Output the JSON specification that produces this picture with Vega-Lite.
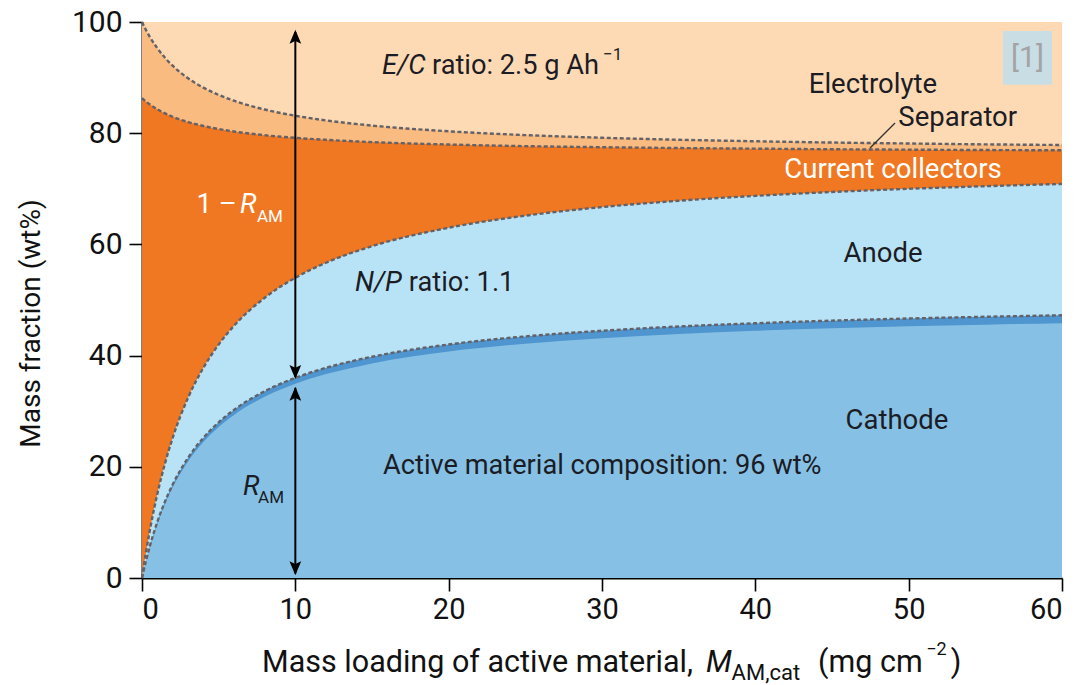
{
  "$schema": "https://vega.github.io/schema/vega-lite/v6.json",
  "autosize": {"type": "none"},
  "padding": {"left": 142, "top": 22, "right": 22, "bottom": 107},
  "width": 920,
  "height": 556,
  "background": "#ffffff",
  "view": {"fill": "#fddab4", "stroke": null},
  "config": {
    "font": "Roboto",
    "text": {"font": "Roboto", "baseline": "middle"},
    "axis": {
      "grid": false,
      "domainColor": "#000000",
      "domainWidth": 2,
      "tickColor": "#000000",
      "tickWidth": 1.6,
      "tickSize": 13,
      "labelFont": "Roboto",
      "labelColor": "#111111",
      "titleFont": "Roboto",
      "titleFontSize": 28,
      "titleFontWeight": "normal",
      "titleColor": "#111111"
    }
  },
  "datasets": {
    "loading": [
      {"m": 0, "catAM": 0, "cat": 0, "an": 0, "cc": 86.3, "sep": 100},
      {"m": 0.25, "catAM": 2.87, "cat": 2.96, "an": 4.45, "cc": 85.71, "sep": 98.61},
      {"m": 0.5, "catAM": 5.43, "cat": 5.6, "an": 8.4, "cc": 85.19, "sep": 97.38},
      {"m": 1, "catAM": 9.78, "cat": 10.08, "an": 15.12, "cc": 84.3, "sep": 95.28},
      {"m": 1.5, "catAM": 13.34, "cat": 13.75, "an": 20.62, "cc": 83.57, "sep": 93.57},
      {"m": 2, "catAM": 16.3, "cat": 16.8, "an": 25.2, "cc": 82.96, "sep": 92.14},
      {"m": 3, "catAM": 20.95, "cat": 21.6, "an": 32.4, "cc": 82.01, "sep": 89.88},
      {"m": 4, "catAM": 24.44, "cat": 25.2, "an": 37.8, "cc": 81.3, "sep": 88.2},
      {"m": 5, "catAM": 27.16, "cat": 28.0, "an": 42.0, "cc": 80.75, "sep": 86.88},
      {"m": 6, "catAM": 29.33, "cat": 30.24, "an": 45.36, "cc": 80.3, "sep": 85.84},
      {"m": 8, "catAM": 32.59, "cat": 33.6, "an": 50.4, "cc": 79.64, "sep": 84.26},
      {"m": 10, "catAM": 34.92, "cat": 36.0, "an": 54.0, "cc": 79.16, "sep": 83.14},
      {"m": 12, "catAM": 36.67, "cat": 37.8, "an": 56.7, "cc": 78.81, "sep": 82.3},
      {"m": 15, "catAM": 38.6, "cat": 39.79, "an": 59.68, "cc": 78.4, "sep": 81.37},
      {"m": 20, "catAM": 40.74, "cat": 42.0, "an": 63.0, "cc": 77.96, "sep": 80.34},
      {"m": 25, "catAM": 42.15, "cat": 43.45, "an": 65.17, "cc": 77.67, "sep": 79.66},
      {"m": 30, "catAM": 43.14, "cat": 44.47, "an": 66.71, "cc": 77.48, "sep": 79.18},
      {"m": 35, "catAM": 43.87, "cat": 45.23, "an": 67.85, "cc": 77.33, "sep": 78.82},
      {"m": 40, "catAM": 44.45, "cat": 45.82, "an": 68.73, "cc": 77.22, "sep": 78.55},
      {"m": 45, "catAM": 44.9, "cat": 46.29, "an": 69.43, "cc": 77.11, "sep": 78.32},
      {"m": 50, "catAM": 45.27, "cat": 46.67, "an": 70.0, "cc": 77.04, "sep": 78.15},
      {"m": 55, "catAM": 45.57, "cat": 46.98, "an": 70.47, "cc": 76.97, "sep": 77.99},
      {"m": 60, "catAM": 45.83, "cat": 47.25, "an": 70.88, "cc": 76.93, "sep": 77.88}
    ],
    "arrowLines": [
      {"m": 10, "lo": 36.2, "hi": 98.2},
      {"m": 10, "lo": 0.8, "hi": 34.2}
    ],
    "arrowHeads": [
      {"m": 10, "v": 98.6, "dir": "up"},
      {"m": 10, "v": 35.8, "dir": "down"},
      {"m": 10, "v": 34.4, "dir": "up"},
      {"m": 10, "v": 0.5, "dir": "down"}
    ],
    "leader": [{"m1": 47.48, "v1": 77.34, "m2": 49.11, "v2": 81.83}],
    "refBox": [{"m1": 56.15, "m2": 59.35, "v1": 88.7, "v2": 98.4}],
    "refText": [{"t": "[1]", "m": 57.75, "v": 93.5}],
    "regionLabels": [
      {"t": "Electrolyte", "m": 47.67, "v": 88.7},
      {"t": "Separator", "m": 53.2, "v": 82.7},
      {"t": "Anode", "m": 48.33, "v": 58.3},
      {"t": "Cathode", "m": 49.24, "v": 28.2}
    ],
    "whiteCentred": [{"t": "Current collectors", "m": 48.98, "v": 73.4}],
    "plainText": [
      {"t": "ratio: 2.5 g Ah", "m": 18.91, "v": 92.1},
      {"t": "ratio: 1.1", "m": 17.4, "v": 53.1},
      {"t": "Active material composition: 96 wt%", "m": 15.72, "v": 20.1}
    ],
    "italicText": [
      {"t": "E/C", "m": 15.65, "v": 92.1},
      {"t": "N/P", "m": 13.89, "v": 53.1},
      {"t": "R", "m": 6.59, "v": 16.4}
    ],
    "smallText": [
      {"t": "−1", "m": 30.07, "v": 94.0},
      {"t": "AM", "m": 7.57, "v": 14.4}
    ],
    "titlePlain": [
      {"t": "Mass loading of active material,", "m": 7.83, "v": -15.3},
      {"t": "(mg cm", "m": 44.09, "v": -15.3},
      {"t": ")", "m": 52.75, "v": -15.3}
    ],
    "titleItalic": [{"t": "M", "m": 36.78, "v": -15.3}],
    "titleSub": [{"t": "AM,cat", "m": 38.45, "v": -17.0}],
    "titleSup": [{"t": "−2", "m": 51.15, "v": -12.9}],
    "whitePlain": [{"t": "1 –", "m": 3.55, "v": 67.1}],
    "whiteItalic": [{"t": "R", "m": 6.39, "v": 67.1}],
    "whiteSmall": [{"t": "AM", "m": 7.5, "v": 64.9}]
  },
  "layer": [
    {
      "data": {"name": "loading"},
      "mark": {"type": "area", "color": "#f9bb7f", "interpolate": "monotone"},
      "encoding": {
        "x": {
          "field": "m", "type": "quantitative",
          "scale": {"domain": [0, 60], "nice": false, "zero": false},
          "axis": {"values": [0, 10, 20, 30, 40, 50, 60], "title": null, "labelPadding": 4, "labelFontSize": 29}
        },
        "y": {
          "field": "sep", "type": "quantitative",
          "scale": {"domain": [0, 100], "nice": false},
          "axis": {
            "values": [0, 20, 40, 60, 80, 100],
            "title": "Mass fraction (wt%)",
            "titleX": -111, "titleY": 301,
            "titleAlign": "center", "titleBaseline": "middle",
            "labelPadding": 7,
            "labelFontSize": 30
          }
        }
      }
    },
    {
      "data": {"name": "loading"},
      "mark": {"type": "area", "color": "#f07822", "interpolate": "monotone"},
      "encoding": {"x": {"field": "m", "type": "quantitative"}, "y": {"field": "cc", "type": "quantitative"}}
    },
    {
      "data": {"name": "loading"},
      "mark": {"type": "area", "color": "#b8e3f7", "interpolate": "monotone"},
      "encoding": {"x": {"field": "m", "type": "quantitative"}, "y": {"field": "an", "type": "quantitative"}}
    },
    {
      "data": {"name": "loading"},
      "mark": {"type": "area", "color": "#4f95d0", "interpolate": "monotone"},
      "encoding": {"x": {"field": "m", "type": "quantitative"}, "y": {"field": "cat", "type": "quantitative"}}
    },
    {
      "data": {"name": "loading"},
      "mark": {"type": "area", "color": "#86c1e5", "interpolate": "monotone"},
      "encoding": {"x": {"field": "m", "type": "quantitative"}, "y": {"field": "catAM", "type": "quantitative"}}
    },
    {
      "data": {"name": "loading"},
      "transform": [{"fold": ["sep", "cc", "an", "cat"], "as": ["boundary", "level"]}],
      "mark": {"type": "line", "color": "#626268", "strokeWidth": 2.4, "strokeDash": [4, 2.5], "interpolate": "monotone"},
      "encoding": {
        "x": {"field": "m", "type": "quantitative"},
        "y": {"field": "level", "type": "quantitative"},
        "detail": {"field": "boundary"}
      }
    },
    {
      "data": {"name": "leader"},
      "mark": {"type": "rule", "color": "#333333", "strokeWidth": 1.3},
      "encoding": {
        "x": {"field": "m1", "type": "quantitative"},
        "y": {"field": "v1", "type": "quantitative"},
        "x2": {"field": "m2"},
        "y2": {"field": "v2"}
      }
    },
    {
      "data": {"name": "arrowLines"},
      "mark": {"type": "rule", "color": "#000000", "strokeWidth": 2},
      "encoding": {
        "x": {"field": "m", "type": "quantitative"},
        "y": {"field": "lo", "type": "quantitative"},
        "y2": {"field": "hi"}
      }
    },
    {
      "data": {"name": "arrowHeads"},
      "mark": {"type": "point", "filled": true, "color": "#000000", "opacity": 1, "size": 784},
      "encoding": {
        "x": {"field": "m", "type": "quantitative"},
        "y": {"field": "v", "type": "quantitative"},
        "shape": {
          "field": "dir", "type": "nominal",
          "scale": {"domain": ["up", "down"], "range": ["M0,0L-0.42,1L0,0.8L0.42,1Z", "M0,0L-0.42,-1L0,-0.8L0.42,-1Z"]},
          "legend": null
        }
      }
    },
    {
      "data": {"name": "refBox"},
      "mark": {"type": "rect", "color": "#c9dde5"},
      "encoding": {
        "x": {"field": "m1", "type": "quantitative"},
        "x2": {"field": "m2"},
        "y": {"field": "v1", "type": "quantitative"},
        "y2": {"field": "v2"}
      }
    },
    {
      "data": {"name": "refText"},
      "mark": {"type": "text", "fontSize": 30, "color": "#a3a3a3", "align": "center"},
      "encoding": {"x": {"field": "m", "type": "quantitative"}, "y": {"field": "v", "type": "quantitative"}, "text": {"field": "t"}}
    },
    {
      "data": {"name": "regionLabels"},
      "mark": {"type": "text", "fontSize": 27.5, "color": "#1c1c24", "align": "center"},
      "encoding": {"x": {"field": "m", "type": "quantitative"}, "y": {"field": "v", "type": "quantitative"}, "text": {"field": "t"}}
    },
    {
      "data": {"name": "whiteCentred"},
      "mark": {"type": "text", "fontSize": 27.5, "color": "#ffffff", "align": "center"},
      "encoding": {"x": {"field": "m", "type": "quantitative"}, "y": {"field": "v", "type": "quantitative"}, "text": {"field": "t"}}
    },
    {
      "data": {"name": "plainText"},
      "mark": {"type": "text", "fontSize": 27.2, "color": "#1c1c24", "align": "left"},
      "encoding": {"x": {"field": "m", "type": "quantitative"}, "y": {"field": "v", "type": "quantitative"}, "text": {"field": "t"}}
    },
    {
      "data": {"name": "italicText"},
      "mark": {"type": "text", "fontSize": 27.5, "fontStyle": "italic", "color": "#1c1c24", "align": "left"},
      "encoding": {"x": {"field": "m", "type": "quantitative"}, "y": {"field": "v", "type": "quantitative"}, "text": {"field": "t"}}
    },
    {
      "data": {"name": "smallText"},
      "mark": {"type": "text", "fontSize": 17, "color": "#1c1c24", "align": "left"},
      "encoding": {"x": {"field": "m", "type": "quantitative"}, "y": {"field": "v", "type": "quantitative"}, "text": {"field": "t"}}
    },
    {
      "data": {"name": "titlePlain"},
      "mark": {"type": "text", "fontSize": 30.5, "color": "#111111", "align": "left"},
      "encoding": {"x": {"field": "m", "type": "quantitative"}, "y": {"field": "v", "type": "quantitative"}, "text": {"field": "t"}}
    },
    {
      "data": {"name": "titleItalic"},
      "mark": {"type": "text", "fontSize": 30.5, "fontStyle": "italic", "color": "#111111", "align": "left"},
      "encoding": {"x": {"field": "m", "type": "quantitative"}, "y": {"field": "v", "type": "quantitative"}, "text": {"field": "t"}}
    },
    {
      "data": {"name": "titleSub"},
      "mark": {"type": "text", "fontSize": 22, "color": "#111111", "align": "left"},
      "encoding": {"x": {"field": "m", "type": "quantitative"}, "y": {"field": "v", "type": "quantitative"}, "text": {"field": "t"}}
    },
    {
      "data": {"name": "titleSup"},
      "mark": {"type": "text", "fontSize": 18, "color": "#111111", "align": "left"},
      "encoding": {"x": {"field": "m", "type": "quantitative"}, "y": {"field": "v", "type": "quantitative"}, "text": {"field": "t"}}
    },
    {
      "data": {"name": "whitePlain"},
      "mark": {"type": "text", "fontSize": 27.5, "color": "#ffffff", "align": "left"},
      "encoding": {"x": {"field": "m", "type": "quantitative"}, "y": {"field": "v", "type": "quantitative"}, "text": {"field": "t"}}
    },
    {
      "data": {"name": "whiteItalic"},
      "mark": {"type": "text", "fontSize": 27.5, "fontStyle": "italic", "color": "#ffffff", "align": "left"},
      "encoding": {"x": {"field": "m", "type": "quantitative"}, "y": {"field": "v", "type": "quantitative"}, "text": {"field": "t"}}
    },
    {
      "data": {"name": "whiteSmall"},
      "mark": {"type": "text", "fontSize": 17, "color": "#ffffff", "align": "left"},
      "encoding": {"x": {"field": "m", "type": "quantitative"}, "y": {"field": "v", "type": "quantitative"}, "text": {"field": "t"}}
    }
  ]
}
